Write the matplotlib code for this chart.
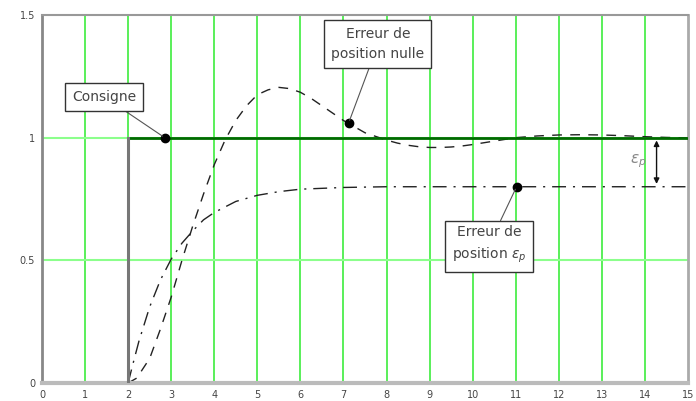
import matplotlib.pyplot as plt
import numpy as np

# consigne (echelon a t = 2)
step_t = [0, 2, 2, 15]
step_y = [0, 0, 1, 1]

# reponse du 2nd ordre (erreur de position nulle)
t2 = [2.0, 2.2, 2.5, 2.75, 3.0, 3.25, 3.5, 3.75, 4.0, 4.25, 4.5, 4.75, 5.0, 5.25, 5.5,
      5.75, 6.0, 6.25, 6.5, 6.75, 7.0, 7.25, 7.5, 7.75, 8.0, 8.25, 8.5, 8.75, 9.0, 9.25,
      9.5, 9.75, 10.0, 10.25, 10.5, 10.75, 11.0, 11.5, 12.0, 12.5, 13.0, 13.5, 14.0,
      14.5, 15.0]
y2 = [0.0, 0.02, 0.10, 0.22, 0.35, 0.50, 0.64, 0.77, 0.89, 0.99, 1.07, 1.13, 1.175,
      1.195, 1.205, 1.20, 1.185, 1.16, 1.13, 1.10, 1.07, 1.045, 1.02, 1.005, 0.99,
      0.978, 0.969, 0.963, 0.960, 0.960, 0.962, 0.966, 0.972, 0.979, 0.986, 0.993,
      1.0, 1.007, 1.011, 1.012, 1.011, 1.008, 1.004, 1.001, 0.999]

# reponse du 1er ordre (erreur de position eps_p)
t1 = [2.0, 2.1, 2.25, 2.5, 2.75, 3.0, 3.25, 3.5, 3.75, 4.0, 4.5, 5.0, 5.5, 6.0, 7.0, 8.0, 15.0]
y1 = [0.0, 0.07, 0.17, 0.31, 0.42, 0.505, 0.57, 0.62, 0.665, 0.695, 0.74, 0.765, 0.78,
      0.79, 0.797, 0.80, 0.80]

# points annotes
dots_t = [2.85, 7.12, 11.02]
dots_y = [1.0, 1.06, 0.80]
notes = ["Consigne", "Erreur de\nposition nulle", "Erreur de\nposition $\\varepsilon_p$"]
note_pos = [(1.44, 1.167), (7.8, 1.38), (10.38, 0.563)]

xticks = list(range(16))
yticks = [0, 0.5, 1, 1.5]
ytick_labels = ["0", "0.5", "1", "1.5"]

fig = plt.figure(figsize=(6.96, 4.01), dpi=100)
ax = fig.add_axes([42 / 696, 18 / 401, 646 / 696, 368 / 401])

ax.set_xlim(0, 15)
ax.set_ylim(0, 1.5)

# grille verte
for x in xticks[1:-1]:
    ax.axvline(x, color="#4cee4c", lw=1.3, zorder=1)
for y in [0.5, 1.0]:
    ax.axhline(y, color="#8cff8c", lw=1.5, zorder=1)

# consigne
ax.plot(step_t[2:], step_y[2:], color="#006a00", lw=2.0, zorder=3)
ax.plot(step_t[1:3], step_y[1:3], color="#777777", lw=2.2, zorder=3)

ax.plot(t2, y2, color="#222222", lw=1.0, dashes=(7, 6), zorder=2)
ax.plot(t1, y1, color="#222222", lw=1.0, dashes=(10, 5, 1.5, 5), zorder=2)

ax.plot(dots_t, dots_y, "o", color="black", ms=6, zorder=5)

for (tx, ty), label, dx, dy in zip(note_pos, notes, dots_t, dots_y):
    ax.annotate(label, xy=(dx, dy), xytext=(tx, ty), ha="center", va="center",
                fontsize=10, color="#444444", linespacing=1.55, zorder=6,
                bbox=dict(boxstyle="square,pad=0.5", fc="white", ec="#333333", lw=1.0),
                arrowprops=dict(arrowstyle="-", color="#555555", lw=0.8,
                                shrinkA=0, shrinkB=2))

# ecart eps_p entre consigne et sortie du 1er ordre
ax.annotate("", xy=(14.27, 0.80), xytext=(14.27, 1.0),
            arrowprops=dict(arrowstyle="<|-|>", color="#111111", lw=1.0,
                            mutation_scale=8, shrinkA=2, shrinkB=2), zorder=6)
ax.text(13.85, 0.905, "$\\varepsilon_p$", color="#888888", fontsize=11,
        ha="center", va="center", zorder=6)

ax.set_xticks(xticks)
ax.set_yticks(yticks)
ax.set_yticklabels(ytick_labels)
ax.tick_params(length=0, labelsize=7, labelcolor="#444444", pad=5)

ax.spines["top"].set_color("#999999")
ax.spines["top"].set_linewidth(1.5)
ax.spines["left"].set_color("#888888")
ax.spines["left"].set_linewidth(2.0)
ax.spines["right"].set_color("#aaaaaa")
ax.spines["right"].set_linewidth(2.0)
ax.spines["bottom"].set_color("#bbbbbb")
ax.spines["bottom"].set_linewidth(3.0)

fig.savefig("out.png", dpi=100)
